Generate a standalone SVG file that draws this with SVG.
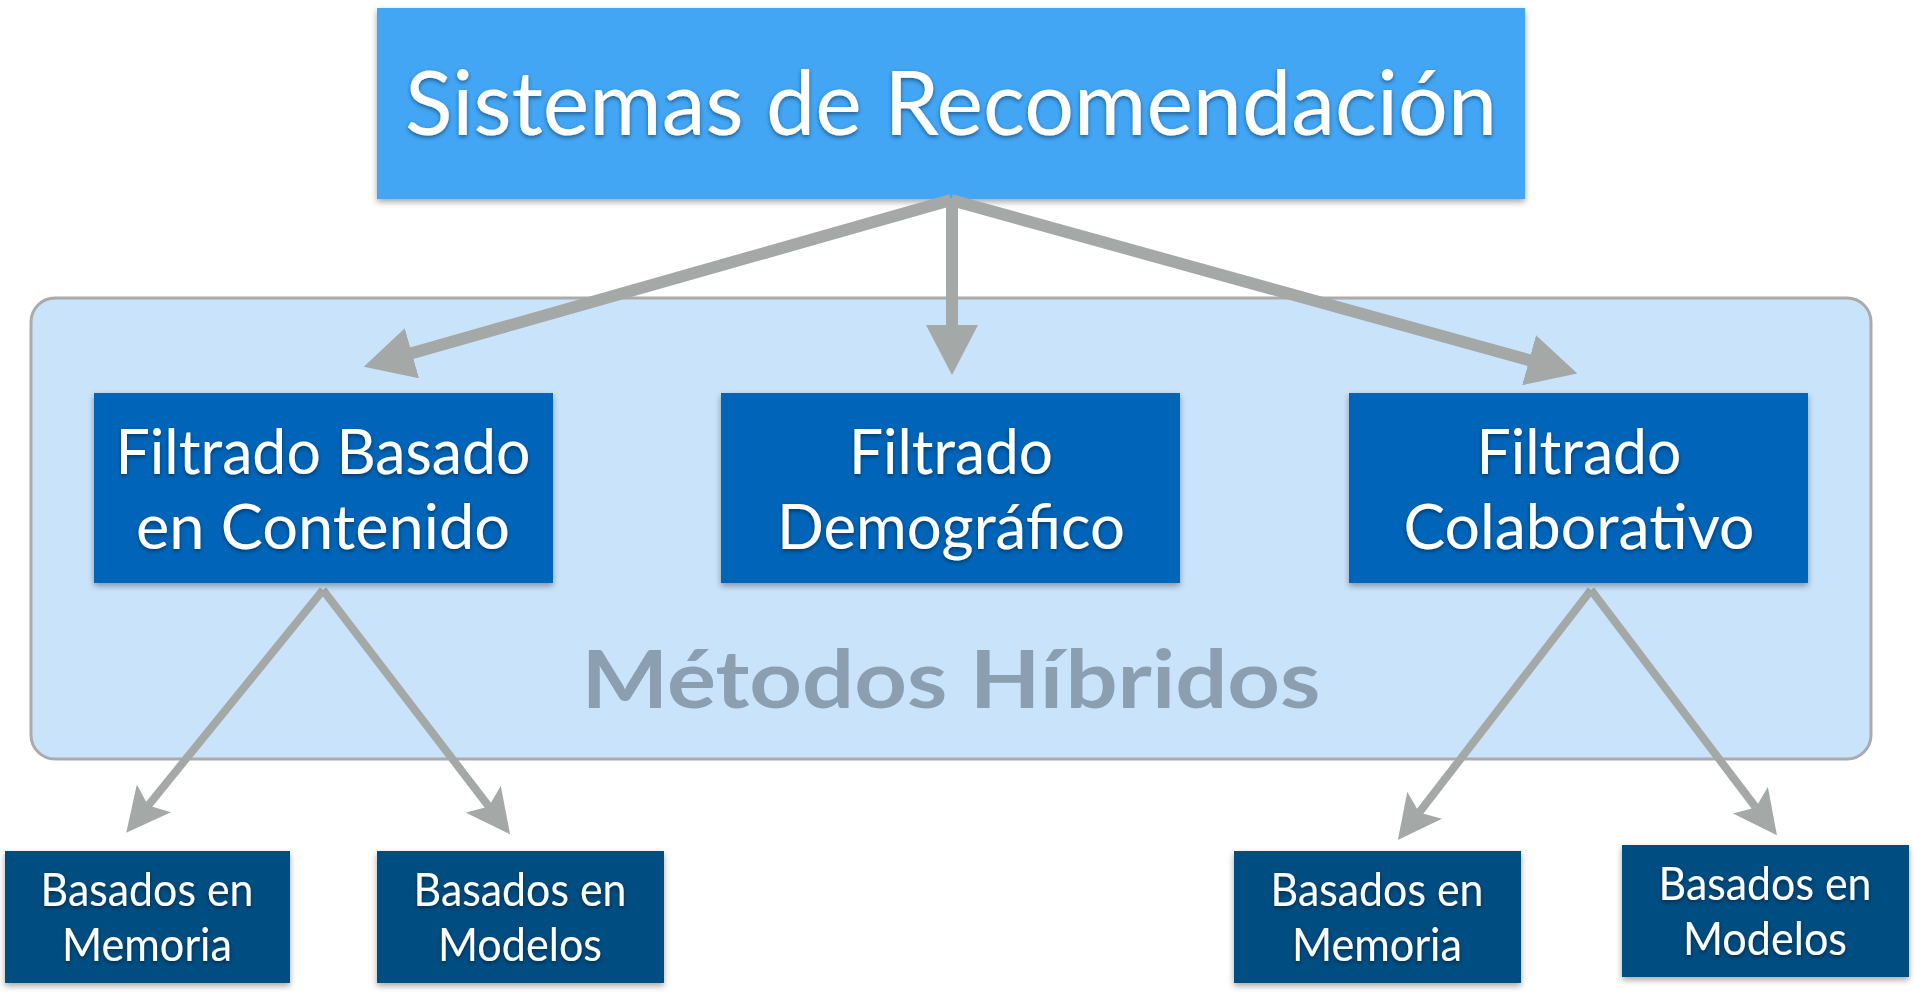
<svg xmlns="http://www.w3.org/2000/svg" width="1914" height="995" viewBox="0 0 1914 995">
<defs>
<filter id="sh" x="-10%" y="-10%" width="120%" height="130%"><feDropShadow dx="0" dy="3" stdDeviation="3" flood-color="#000" flood-opacity="0.35"/></filter>
<filter id="tsh" x="-5%" y="-20%" width="110%" height="140%"><feDropShadow dx="0" dy="2" stdDeviation="2" flood-color="#000" flood-opacity="0.45"/></filter>
<marker id="bigHead" markerUnits="userSpaceOnUse" viewBox="0 0 50 52" refX="3" refY="26" markerWidth="50" markerHeight="52" orient="auto"><path d="M0,0 L50,26 L0,52 z" fill="#a4a8a7"/></marker>
<marker id="smallHead" markerUnits="userSpaceOnUse" viewBox="0 0 44 44" refX="11" refY="22" markerWidth="44" markerHeight="44" orient="auto"><path d="M0,0 L44,22 L0,44 L9,22 z" fill="#a4a8a7"/></marker>
</defs>
<style>
.t{font-family:"Gill Sans",Lato,"Liberation Sans",sans-serif;fill:#fff;text-anchor:middle;filter:url(#tsh)}
.mid{fill:#0265b9}
.bot{fill:#024e82}
.big{stroke:#a4a8a7;stroke-width:12;fill:none;marker-end:url(#bigHead)}
.small{stroke:#a4a8a7;stroke-width:8;fill:none;marker-end:url(#smallHead)}
</style>
<rect width="1914" height="995" fill="#fff"/>
<g id="hybrid">
<rect x="31" y="298" width="1840" height="461" rx="24" ry="24" fill="#c9e3fb" stroke="#ababab" stroke-width="3"/>
<text x="951" y="708" font-family="Lato,'Liberation Sans',sans-serif" font-weight="bold" font-size="80" fill="#8c9fb1" text-anchor="middle" textLength="739" lengthAdjust="spacingAndGlyphs">Métodos Híbridos</text>
</g>
<g id="root">
<rect x="377" y="8" width="1148" height="191" fill="#42a6f5" filter="url(#sh)"/>
<text class="t" x="951" y="135" font-size="90" textLength="1092" lengthAdjust="spacingAndGlyphs">Sistemas de Recomendación</text>
</g>
<g id="connectors">
<line class="big" x1="951" y1="200" x2="409" y2="354"/>
<line class="big" x1="952" y1="200" x2="952" y2="328"/>
<line class="big" x1="951" y1="200" x2="1532" y2="361"/>
<line class="small" x1="323" y1="590" x2="147" y2="807"/>
<line class="small" x1="323" y1="590" x2="490" y2="808"/>
<line class="small" x1="1591" y1="590" x2="1418" y2="814"/>
<line class="small" x1="1591" y1="590" x2="1757" y2="809"/>
</g>
<g id="contenido">
<rect class="mid" x="94" y="393" width="459" height="190" filter="url(#sh)"/>
<text class="t" x="323" y="474" font-size="62" textLength="415" lengthAdjust="spacingAndGlyphs">Filtrado Basado</text>
<text class="t" x="323" y="549" font-size="62" textLength="374" lengthAdjust="spacingAndGlyphs">en Contenido</text>
</g>
<g id="demografico">
<rect class="mid" x="721" y="393" width="459" height="190" filter="url(#sh)"/>
<text class="t" x="951" y="474" font-size="62" textLength="204" lengthAdjust="spacingAndGlyphs">Filtrado</text>
<text class="t" x="951" y="549" font-size="62" textLength="348" lengthAdjust="spacingAndGlyphs">Demográfico</text>
</g>
<g id="colaborativo">
<rect class="mid" x="1349" y="393" width="459" height="190" filter="url(#sh)"/>
<text class="t" x="1579" y="474" font-size="62" textLength="205" lengthAdjust="spacingAndGlyphs">Filtrado</text>
<text class="t" x="1579" y="549" font-size="62" textLength="351" lengthAdjust="spacingAndGlyphs">Colaborativo</text>
</g>
<g id="memoria1">
<rect class="bot" x="5" y="851" width="285" height="132" filter="url(#sh)"/>
<text class="t" x="147" y="906" font-size="46" textLength="213" lengthAdjust="spacingAndGlyphs">Basados en</text>
<text class="t" x="147" y="961" font-size="46" textLength="170" lengthAdjust="spacingAndGlyphs">Memoria</text>
</g>
<g id="modelos1">
<rect class="bot" x="377" y="851" width="287" height="132" filter="url(#sh)"/>
<text class="t" x="520" y="906" font-size="46" textLength="213" lengthAdjust="spacingAndGlyphs">Basados en</text>
<text class="t" x="520" y="961" font-size="46" textLength="164" lengthAdjust="spacingAndGlyphs">Modelos</text>
</g>
<g id="memoria2">
<rect class="bot" x="1234" y="851" width="287" height="132" filter="url(#sh)"/>
<text class="t" x="1377" y="906" font-size="46" textLength="213" lengthAdjust="spacingAndGlyphs">Basados en</text>
<text class="t" x="1377" y="961" font-size="46" textLength="170" lengthAdjust="spacingAndGlyphs">Memoria</text>
</g>
<g id="modelos2">
<rect class="bot" x="1622" y="845" width="287" height="132" filter="url(#sh)"/>
<text class="t" x="1765" y="900" font-size="46" textLength="213" lengthAdjust="spacingAndGlyphs">Basados en</text>
<text class="t" x="1765" y="955" font-size="46" textLength="164" lengthAdjust="spacingAndGlyphs">Modelos</text>
</g>
</svg>
